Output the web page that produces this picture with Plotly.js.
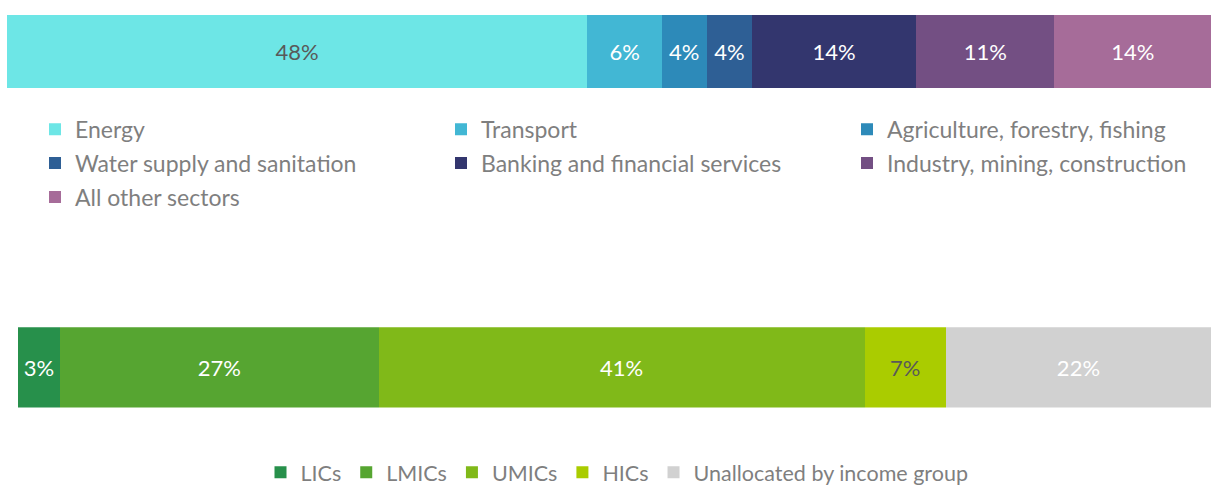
<!DOCTYPE html>
<html><head><meta charset="utf-8">
<script src="https://cdn.plot.ly/plotly-3.0.1.min.js"></script>
<style>html,body{margin:0;padding:0;background:#fff}#chart{width:1211px;height:493px}</style>
</head><body><div id="chart"></div>
<script>
const sectorNames = ['Energy','Transport','Agriculture, forestry, fishing','Water supply and sanitation','Banking and financial services','Industry, mining, construction','All other sectors'];
const sectorValues = [48.2, 6.2, 3.7, 3.8, 13.6, 11.5, 13.0];
const sectorLabels = ['48%','6%','4%','4%','14%','11%','14%'];
const sectorColors = ['#6DE6E6','#42B7D4','#2D8AB9','#2E5F95','#33366E','#734F83','#A66C99'];
const sectorTextColors = ['#595959','#FFFFFF','#FFFFFF','#FFFFFF','#FFFFFF','#FFFFFF','#FFFFFF'];
// legend column of each sector (three columns laid out row by row)
const sectorLegendCol = ['legend','legend2','legend3','legend','legend2','legend3','legend'];

const incomeNames = ['LICs','LMICs','UMICs','HICs','Unallocated by income group'];
const incomeValues = [3.5, 26.7, 40.7, 6.8, 22.2];
const incomeLabels = ['3%','27%','41%','7%','22%'];
const incomeColors = ['#27904B','#56A531','#80B919','#AACC00','#D1D1D1'];
const incomeTextColors = ['#FFFFFF','#FFFFFF','#FFFFFF','#595959','#FFFFFF'];

const W = 1211, H = 493;
const FONT = 'Lato, "Open Sans", sans-serif';
const py = px => (H - px) / H;
const pxX = px => px / W;

const traces = [];
sectorNames.forEach((n, i) => {
  traces.push({
    type: 'bar', orientation: 'h', name: n, legendgroup: 's' + i,
    x: [sectorValues[i]], y: [0], xaxis: 'x', yaxis: 'y',
    width: 1,
    marker: {color: sectorColors[i], line: {width: 0}},
    text: [sectorLabels[i]], textposition: 'inside', insidetextanchor: 'middle',
    textangle: 0, constraintext: 'none',
    textfont: {family: FONT, size: 22, color: sectorTextColors[i]},
    hoverinfo: 'name+x', legend: sectorLegendCol[i]
  });
});
incomeNames.forEach((n, i) => {
  traces.push({
    type: 'bar', orientation: 'h', name: n,
    x: [incomeValues[i]], y: [0], xaxis: 'x2', yaxis: 'y2',
    width: 1,
    marker: {color: incomeColors[i], line: {width: 0}},
    text: [incomeLabels[i]], textposition: 'inside', insidetextanchor: 'middle',
    textangle: 0, constraintext: 'none',
    textfont: {family: FONT, size: 22, color: incomeTextColors[i]},
    hoverinfo: 'name+x', legend: 'legend4'
  });
});

const sum = a => a.reduce((s, v) => s + v, 0);
const axisBase = {showgrid: false, zeroline: false, showline: false, showticklabels: false, ticks: '', fixedrange: true};
const legBase = {
  orientation: 'h', xanchor: 'left', yanchor: 'middle', traceorder: 'normal',
  font: {family: FONT, size: 21.5, color: '#7F7F7F'}, bgcolor: 'rgba(0,0,0,0)',
  borderwidth: 0, itemclick: false, itemdoubleclick: false
};
const colLeg = {
  orientation: 'v', xanchor: 'left', yanchor: 'top', traceorder: 'grouped', tracegroupgap: 1,
  font: {family: FONT, size: 23, color: '#7F7F7F'}, bgcolor: 'rgba(0,0,0,0)',
  borderwidth: 0, itemclick: false, itemdoubleclick: false
};

const layout = {
  width: W, height: H,
  margin: {l: 0, r: 0, t: 0, b: 0},
  paper_bgcolor: '#FFFFFF', plot_bgcolor: 'rgba(0,0,0,0)',
  barmode: 'stack', showlegend: true,
  xaxis: Object.assign({}, axisBase, {domain: [pxX(7), 1], range: [0, 100], anchor: 'y'}),
  yaxis: Object.assign({}, axisBase, {domain: [py(90), py(15)], range: [-0.5, 0.5], anchor: 'x'}),
  xaxis2: Object.assign({}, axisBase, {domain: [pxX(18), 1], range: [0, sum(incomeValues)], anchor: 'y2'}),
  yaxis2: Object.assign({}, axisBase, {domain: [py(416), py(334)], range: [-0.5, 0.5], anchor: 'x2'}),
  legend: Object.assign({}, colLeg, {x: pxX(35), y: py(110)}),
  legend2: Object.assign({}, colLeg, {x: pxX(441), y: py(110)}),
  legend3: Object.assign({}, colLeg, {x: pxX(847), y: py(110)}),
  legend4: Object.assign({}, legBase, {x: pxX(617), xanchor: 'center', y: py(482)})
};

Plotly.newPlot('chart', traces, layout, {displayModeBar: false});
</script>
</body></html>
